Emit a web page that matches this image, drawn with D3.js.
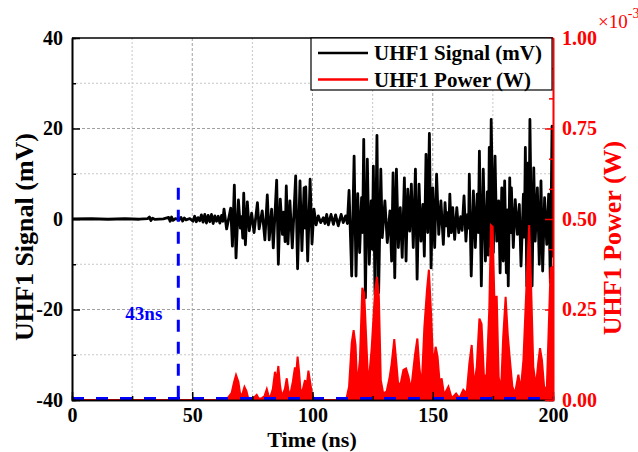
<!DOCTYPE html>
<html><head><meta charset="utf-8">
<script src="https://cdn.jsdelivr.net/npm/d3@7"></script>
<style>body{margin:0;background:#fff}svg{display:block}</style>
</head><body>
<script>
// ---- data ----
const sigTime = [0,8,15,22,28,31.5,32.2,32.8,33.5,34.5,38,40.2,40.8,41.4,42.0,43,44.5,45.3,46.0,46.7,47.4,49,50.3,51.0,51.7,52.4,53.1,53.8,54.5,55.2,55.9,56.6,57.3,58.0,58.7,59.4,60.1,60.8,61.5,62.2,62.7,
63.2,64.3,66.0,66.7,67.5,68.2,69.2,70.0,70.5,71.0,71.4,72.1,72.9,73.7,74.7,75.7,77.1,77.8,79.1,80.2,81.2,82.0,83.0,83.7,85.1,85.8,86.6,87.5,88.0,88.6,89.1,89.8,90.6,91.6,93.0,93.8,94.8,95.6,96.5,96.85,97.2,98.0,99.0,99.8,100.6,101.5,102.4,103.4,104.5,105.2,105.9,106.6,107.7,108.7,109.6,110.7,111.9,112.8,113.8,114.5,
115.2,116.3,117.3,118.1,118.8,119.6,120.4,120.85,121.3,122.0,122.8,123.6,124.4,124.9,125.3,126.0,126.8,127.5,128.4,129.0,130.1,131.1,132.2,132.9,133.5,134.2,134.9,135.7,136.5,137.3,138.2,138.9,139.6,140.4,141.1,141.9,142.8,143.5,144.3,145.1,145.9,146.5,147.2,147.9,148.6,149.3,150.0,150.8,151.6,152.5,153.4,154.4,
155.1,155.7,156.2,156.6,157.1,157.7,158.3,159.1,160.0,160.8,161.6,162.2,163.0,163.8,164.5,164.9,165.2,166.0,166.9,167.7,168.5,168.95,169.4,170.2,171.0,171.9,172.7,173.1,173.5,173.9,174.3,175.2,175.9,176.6,177.4,178.0,178.7,179.3,179.9,180.6,181.0,181.4,182.0,182.35,182.7,183.5,184.3,185.2,186.0,186.7,187.7,188.1,188.5,189.1,189.7,190.0,190.4,191.3,192.0,192.6,193.5,194.3,195.0,195.7,196.5,197.4,198.2,198.9,199.6,200];
const sigMv = [0,0.05,-0.05,0.05,-0.05,0.1,0.45,-0.35,0.2,-0.1,0.05,0.35,-0.5,0.45,-0.3,0.1,-0.2,0.35,-0.45,0.25,-0.2,0.1,-0.5,0.6,-0.6,0.3,-0.4,0.9,-0.7,1.0,-0.9,0.8,-0.6,1.0,-1.0,0.7,-0.5,0.6,-0.9,0.8,-0.5,
2.2,-2.2,2.4,-6,7.5,-8.6,4.2,-2.0,0.5,-4.2,5.7,-5.7,3.8,-2.6,1.3,-3.0,3.6,-2.2,1.8,-4.6,5.3,-4.6,2.2,-6.4,8.6,-10,4.4,-3.4,1.5,-5.0,7.3,-5.5,4.0,-6.4,9.5,-11,8.4,-7.0,6.9,-2.0,7.1,-9.3,8.8,-5.5,2.2,-1.3,0.7,-0.8,0.3,-1.0,1.0,-1.3,1.0,-1.2,0.9,-1.5,1.0,-0.8,0.7,-1.0,
6.3,-12.6,13.9,-12.6,5.6,-7.4,4.7,-3.0,17.6,-17.4,13.2,-10,4.0,-6.7,11.7,-16.6,18.5,-16.3,11,-4.1,4.0,-5.2,1.8,-9.3,10.2,-13,11,-6.3,2.5,-8.5,9.1,-9.3,6.6,-2.7,7.7,-6.3,11,-13.3,7.7,-4.9,3.2,-8.2,14.3,-3.0,18.9,-10.8,6.9,-6.3,9.9,-3.4,4.0,-5.6,
3.6,-1.5,1.4,-3.8,5.5,-3.0,2.5,-4.5,2.5,-3.0,0.5,-2.5,5.1,-4.9,1.0,-2.0,9.9,-12.6,6.2,-6.3,5.5,-3.0,15,-14.8,11,-9.3,6.0,-8.0,15.8,-6.0,22,-7.4,13.9,-4.9,4.0,-11.9,6.9,-9.3,8.4,-11.9,2.0,-14.8,9.1,-3.0,6.9,-6.3,4.3,-3.4,3.2,-10.4,5.5,-4.0,15.8,-14.8,12.4,-5.0,22,-14.8,11.3,-4.9,6.9,-10,8.4,-11.5,4.7,-5.6,5.5,-14,20.5,-8.5];

// power in units of 1e-3 W
const powTime = [0,63,64.5,66.4,67.4,68.2,69.2,70.1,71.0,71.7,72.5,73.3,75,76.8,77.6,78.9,80,81.0,81.6,82.3,83.5,84.4,85.0,85.8,86.5,87.2,88.5,89.3,89.9,90.6,91.8,92.7,93.2,93.8,94.4,95.1,96.0,96.9,97.5,98.3,99.0,99.7,100.6,101.5,114,
115.2,116.3,117.1,117.9,118.6,119.7,120.7,121.5,122.3,123.2,124.6,126.0,126.8,127.6,128.4,129.4,130.8,132.0,132.9,134.0,134.9,135.7,136.8,137.8,138.9,139.9,141.0,142.6,143.6,144.4,145.4,146.5,147.6,148.4,149.3,150.2,151.2,152.0,153.0,153.7,154.7,156.5,157.9,159.7,161.1,162.7,164.1,
165.2,166.2,167.2,168.3,169.4,170.3,171.3,172.4,173.5,174.2,174.9,175.6,176.6,177.4,178.4,179.3,180.3,181.2,182.1,183.1,184.2,185.6,186.6,187.7,188.5,189.3,190.1,190.8,191.8,192.9,193.9,194.6,195.4,196.3,197.4,198.2,199.0,199.9,200];
const powMw = [0,0,0.003,0.02,0.05,0.069,0.05,0.008,0.02,0.036,0.025,0.004,0.003,0.014,0.004,0.005,0.01,0.03,0.015,0.004,0.03,0.078,0.05,0.094,0.04,0.01,0.03,0.06,0.03,0.01,0.05,0.09,0.07,0.12,0.08,0.02,0.03,0.055,0.035,0.081,0.05,0.02,0.002,0,0,
0.037,0.157,0.193,0.152,0.037,0.11,0.31,0.295,0.175,0.037,0.143,0.3,0.34,0.285,0.055,0.018,0.023,0.06,0.1,0.168,0.1,0.037,0.05,0.083,0.087,0.064,0.028,0.124,0.17,0.092,0.037,0.2,0.304,0.36,0.24,0.092,0.147,0.12,0.037,0.06,0.014,0.037,0.005,0.018,0.005,0.028,0.018,
0.1,0.152,0.037,0.092,0.225,0.21,0.064,0.07,0.25,0.483,0.479,0.285,0.285,0.064,0.028,0.175,0.285,0.18,0.11,0.037,0.018,0.07,0.028,0.11,0.24,0.368,0.483,0.34,0.092,0.037,0.106,0.143,0.11,0.037,0.028,0.193,0.364,0.368,0.368];

const xTicks = [0,50,100,150,200];
const xMinor = [25,75,125,175];
const yTicks = [-40,-20,0,20,40];
const yMinor = [-30,-10,10,30];
const pTicks = [0,0.25,0.5,0.75,1.0];
const onsetNs = 44.2, onsetTopMv = 6.9, onsetLabel = "43ns", thresholdMw = 0.004;
const legendLabels = ["UHF1 Signal (mV)", "UHF1 Power (W)"];

// ---- drawing ----
const W = 638, H = 452, L = 72, R = 553, T = 38, B = 400;
const FONT = "'Liberation Serif','Times New Roman',serif";
const svg = d3.select("body").append("svg").attr("width", W).attr("height", H)
  .style("font-family", FONT);
const x = d3.scaleLinear().domain([0,200]).range([L,R]);
const y = d3.scaleLinear().domain([-40,40]).range([B,T]);
const yp = d3.scaleLinear().domain([0,1]).range([B,T]);

svg.append("defs").append("clipPath").attr("id","clip")
  .append("rect").attr("x",L).attr("y",T-2).attr("width",R-L).attr("height",B-T+2);

// grid
const grid = svg.append("g");
xMinor.forEach(v => grid.append("line").attr("x1",x(v)).attr("x2",x(v)).attr("y1",T).attr("y2",B)
  .attr("stroke","#c8c8c8").attr("stroke-dasharray","2,2"));
xTicks.slice(1,-1).forEach(v => grid.append("line").attr("x1",x(v)).attr("x2",x(v)).attr("y1",T).attr("y2",B)
  .attr("stroke","#a0a0a0").attr("stroke-dasharray","3,2"));
yMinor.forEach(v => grid.append("line").attr("y1",y(v)).attr("y2",y(v)).attr("x1",L).attr("x2",R)
  .attr("stroke","#c8c8c8").attr("stroke-dasharray","2,2"));
yTicks.slice(1,-1).forEach(v => grid.append("line").attr("y1",y(v)).attr("y2",y(v)).attr("x1",L).attr("x2",R)
  .attr("stroke","#a0a0a0").attr("stroke-dasharray","3,2"));

const plot = svg.append("g").attr("clip-path","url(#clip)");

// signal
const sig = sigTime.map((t,i)=>[t,sigMv[i]]);
plot.append("path").datum(sig)
  .attr("d", d3.line().x(d=>x(d[0])).y(d=>y(d[1])))
  .attr("fill","none").attr("stroke","#000").attr("stroke-width",2.8).attr("stroke-linejoin","round");

// power
const pw = powTime.map((t,i)=>[t,powMw[i]]);
plot.append("path").datum(pw)
  .attr("d", d3.area().x(d=>x(d[0])).y0(yp(0)).y1(d=>yp(d[1])))
  .attr("fill","#ff0000");
plot.append("path").datum(pw)
  .attr("d", d3.line().x(d=>x(d[0])).y(d=>yp(d[1])))
  .attr("fill","none").attr("stroke","#ff0000").attr("stroke-width",2);

// blue dashed markers
svg.append("line").attr("x1",x(0)).attr("x2",x(200)).attr("y1",yp(thresholdMw)).attr("y2",yp(thresholdMw))
  .attr("stroke","#0000ff").attr("stroke-width",3).attr("stroke-dasharray","12,12");
svg.append("line").attr("x1",x(onsetNs)).attr("x2",x(onsetNs)).attr("y1",y(onsetTopMv)).attr("y2",B)
  .attr("stroke","#0000ff").attr("stroke-width",3).attr("stroke-dasharray","12,10");
svg.append("text").attr("x",x(onsetNs)-16).attr("y",320).attr("text-anchor","end")
  .attr("font-size",19).attr("font-weight","bold").attr("fill","#0000ff").text(onsetLabel);

// axes
function styleAxis(g, color){
  g.selectAll("text").attr("font-family",FONT).attr("font-size",20).attr("font-weight","bold").attr("fill",color);
  g.selectAll("line").attr("stroke",color).attr("stroke-width",1.5);
  g.select(".domain").attr("stroke",color).attr("stroke-width",1.6);
}
const gl = svg.append("g").attr("transform",`translate(${L},0)`)
  .call(d3.axisLeft(y).tickValues(yTicks).tickSizeInner(-8).tickSizeOuter(0).tickPadding(9).tickFormat(d => String(d)));
styleAxis(gl,"#000");
const glm = svg.append("g").attr("transform",`translate(${L},0)`)
  .call(d3.axisLeft(y).tickValues(yMinor).tickSize(-4).tickFormat(""));
styleAxis(glm,"#000");
const gb = svg.append("g").attr("transform",`translate(0,${B})`)
  .call(d3.axisBottom(x).tickValues(xTicks).tickSizeInner(-8).tickSizeOuter(0).tickPadding(8).tickFormat(d => String(d)));
styleAxis(gb,"#000");
const gbm = svg.append("g").attr("transform",`translate(0,${B})`)
  .call(d3.axisBottom(x).tickValues(xMinor).tickSize(-4).tickFormat(""));
styleAxis(gbm,"#000");
svg.append("line").attr("x1",L).attr("x2",R).attr("y1",T).attr("y2",T).attr("stroke","#000").attr("stroke-width",1.6);

const gr = svg.append("g").attr("transform",`translate(${R},0)`)
  .call(d3.axisRight(yp).tickValues(pTicks).tickSizeInner(-8).tickSizeOuter(0).tickPadding(9).tickFormat(d3.format(".2f")));
styleAxis(gr,"#ff0000");
const pMinor = d3.range(0,1.0001,0.25/3).filter(v => !pTicks.some(p => Math.abs(p-v)<1e-6));
const grm = svg.append("g").attr("transform",`translate(${R},0)`)
  .call(d3.axisRight(yp).tickValues(pMinor).tickSize(-4).tickFormat(""));
styleAxis(grm,"#ff0000");

// multiplier
const mult = svg.append("text").attr("x",598).attr("y",28).attr("fill","#ff0000").attr("font-size",19);
mult.append("tspan").text("×10");
mult.append("tspan").attr("dy",-10).attr("font-size",14).text("-3");

// titles
svg.append("text").attr("transform","translate(33,237) rotate(-90)").attr("text-anchor","middle")
  .attr("font-size",26).attr("font-weight","bold").attr("fill","#000").text("UHF1 Signal (mV)");
svg.append("text").attr("transform","translate(621,238) rotate(-90)").attr("text-anchor","middle")
  .attr("font-size",26).attr("font-weight","bold").attr("fill","#ff0000").text("UHF1 Power (W)");
svg.append("text").attr("x",312).attr("y",446.5).attr("text-anchor","middle")
  .attr("font-size",22).attr("font-weight","bold").attr("fill","#000").text("Time (ns)");

// legend
const lg = svg.append("g");
lg.append("rect").attr("x",311).attr("y",T).attr("width",241).attr("height",52)
  .attr("fill","#fff").attr("stroke","#000").attr("stroke-width",1.2);
const colors = ["#000","#ff0000"];
legendLabels.forEach((lab,i)=>{
  const yy = 53 + i*26.5;
  lg.append("line").attr("x1",318).attr("x2",368).attr("y1",yy).attr("y2",yy).attr("stroke",colors[i]).attr("stroke-width",2.6);
  lg.append("text").attr("x",374).attr("y",yy+7).attr("font-size",21).attr("font-weight","bold").attr("fill","#000").text(lab);
});
</script>
</body></html>
